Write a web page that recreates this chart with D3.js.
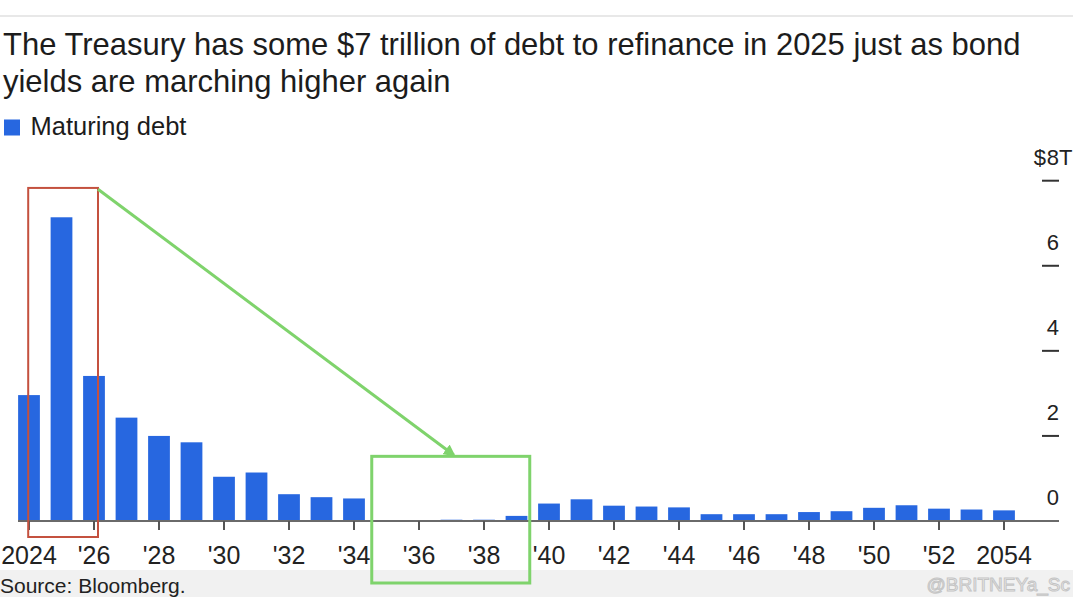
<!DOCTYPE html>
<html>
<head>
<meta charset="utf-8">
<script src="https://cdn.jsdelivr.net/npm/d3@7"></script>
<style>
  html, body { margin: 0; padding: 0; background: #fff; }
  svg { display: block; }
  text { font-family: "Liberation Sans", Arial, Helvetica, sans-serif; }
</style>
</head>
<body>
<svg id="chart" width="1073" height="602"></svg>
<script>
// ---- data ----
const years = d3.range(2024, 2055);
const maturingDebt = [
  2.96, 7.14, 3.41, 2.43, 2.00, 1.85, 1.04, 1.14, 0.63, 0.56,
  0.53, 0.01, 0.01, 0.03, 0.03, 0.12, 0.41, 0.51, 0.36, 0.34,
  0.32, 0.16, 0.16, 0.16, 0.21, 0.23, 0.31, 0.37, 0.29, 0.27,
  0.25
];
const yTicks = [0, 2, 4, 6, 8];
const xTickYears = d3.range(2024, 2055, 2);
const titleLines = [
  "The Treasury has some $7 trillion of debt to refinance in 2025 just as bond",
  "yields are marching higher again"
];
const legendLabel = "Maturing debt";
const sourceText = "Source: Bloomberg.";
const watermark = "@BRITNEYa_Sc";

// ---- layout ----
const W = 1073, H = 602;
const svg = d3.select("#chart");
const barColor = "#2767e0";
const step = 32.5;
const firstCenter = 29;

const x = d3.scaleBand()
  .domain(years)
  .range([firstCenter - step / 2, firstCenter - step / 2 + step * years.length])
  .paddingInner(0.33)
  .paddingOuter(0.165);
const xc = yr => x(yr) + x.bandwidth() / 2;

const y = d3.scaleLinear().domain([0, 8]).range([521, 180.7]);

// top divider
svg.append("line").attr("x1", 0).attr("x2", W).attr("y1", 16).attr("y2", 16)
  .attr("stroke", "#e8e8e8").attr("stroke-width", 2);

// title
const title = svg.append("g");
titleLines.forEach((t, i) => {
  title.append("text").attr("x", 3).attr("y", 55 + i * 36.7)
    .attr("fill", "#1c1c1c").attr("font-size", 30).text(t);
});
const l1 = title.select("text").node().getComputedTextLength();
const fs = 30 * 1018 / l1;
title.selectAll("text").attr("font-size", fs);

// legend
svg.append("rect").attr("x", 4).attr("y", 119.5).attr("width", 16).attr("height", 16)
  .attr("fill", barColor);
const leg = svg.append("text").attr("x", 30.5).attr("y", 135).attr("font-size", 24)
  .attr("fill", "#1c1c1c").text(legendLabel);
const lw = leg.node().getComputedTextLength();
leg.attr("font-size", 24 * 156 / lw);

// bottom source band
svg.append("rect").attr("x", 0).attr("y", 570).attr("width", W).attr("height", 27)
  .attr("fill", "#f1f1f1");
svg.append("text").attr("x", 0).attr("y", 593).attr("font-size", 21)
  .attr("font-family", "'Open Sans', 'Noto Sans', sans-serif")
  .attr("fill", "#222").text(sourceText);
svg.append("text").attr("x", 1070).attr("y", 591).attr("font-size", 19)
  .attr("text-anchor", "end")
  .attr("fill", "none").attr("stroke", "#c4c4c4").attr("stroke-width", 1)
  .text(watermark);

// bars
svg.append("g").selectAll("rect").data(years).join("rect")
  .attr("x", d => x(d))
  .attr("width", x.bandwidth())
  .attr("y", (d, i) => y(maturingDebt[i]))
  .attr("height", (d, i) => y(0) - y(maturingDebt[i]))
  .attr("fill", barColor);

// baseline
svg.append("line").attr("x1", 18).attr("x2", 1059).attr("y1", y(0)).attr("y2", y(0))
  .attr("stroke", "#6a6a6a").attr("stroke-width", 2);

// x axis
const xAxis = d3.axisBottom(x)
  .tickValues(xTickYears)
  .tickSize(9)
  .tickPadding(10)
  .tickFormat(d => (d === 2024 || d === 2054) ? String(d) : "'" + String(d).slice(2));
const gx = svg.append("g").attr("transform", `translate(0,${y(0)})`).call(xAxis);
gx.select(".domain").remove();
gx.selectAll(".tick line").attr("stroke", "#555").attr("stroke-width", 2);
gx.selectAll(".tick text").attr("font-size", 25).attr("fill", "#222")
  .attr("font-family", "'Liberation Sans', Arial, sans-serif")
  .attr("dy", null).attr("y", 43);

// right y axis (Bloomberg style: dash + label above)
const gy = svg.append("g");
yTicks.forEach(v => {
  if (v !== 0) {
    gy.append("line").attr("x1", 1042).attr("x2", 1059)
      .attr("y1", y(v)).attr("y2", y(v))
      .attr("stroke", "#333").attr("stroke-width", 2);
  }
  gy.append("text").attr("x", 1059).attr("y", y(v) - 16)
    .attr("text-anchor", "end").attr("font-size", 22).attr("fill", "#222")
    .text(v);
  if (v === 8) {
    gy.append("text").attr("x", 1046).attr("y", y(v) - 16)
      .attr("text-anchor", "end").attr("font-size", 22).attr("fill", "#222").text("$");
    gy.append("text").attr("x", 1059).attr("y", y(v) - 16)
      .attr("font-size", 22).attr("fill", "#222").text("T");
  }
});

// annotations
const ann = svg.append("g").attr("fill", "none");
ann.append("rect")
  .attr("x", xc(2024) - 0.8).attr("y", y(7.83))
  .attr("width", xc(2026) + 4 - (xc(2024) - 0.8))
  .attr("height", y(0) + 16 - y(7.83))
  .attr("stroke", "#c4513f").attr("stroke-width", 2);
const gL = (xc(2034) + xc(2035)) / 2 + 1.5;
const gR = (xc(2039) + xc(2040)) / 2 - 3;
ann.append("rect")
  .attr("x", gL).attr("y", y(1.52))
  .attr("width", gR - gL).attr("height", 583 - y(1.52))
  .attr("stroke", "#7fd36c").attr("stroke-width", 3);

svg.append("defs").append("marker")
  .attr("id", "ah").attr("viewBox", "0 0 10 10").attr("refX", 8).attr("refY", 5)
  .attr("markerWidth", 4).attr("markerHeight", 4).attr("orient", "auto")
  .append("path").attr("d", "M0,0 L10,5 L0,10 Z").attr("fill", "#7fd36c");
ann.append("line")
  .attr("x1", xc(2026) + 4).attr("y1", y(7.8))
  .attr("x2", (gL + gR) / 2 + 3).attr("y2", y(1.55))
  .attr("stroke", "#7fd36c").attr("stroke-width", 3)
  .attr("marker-end", "url(#ah)");
</script>
</body>
</html>
